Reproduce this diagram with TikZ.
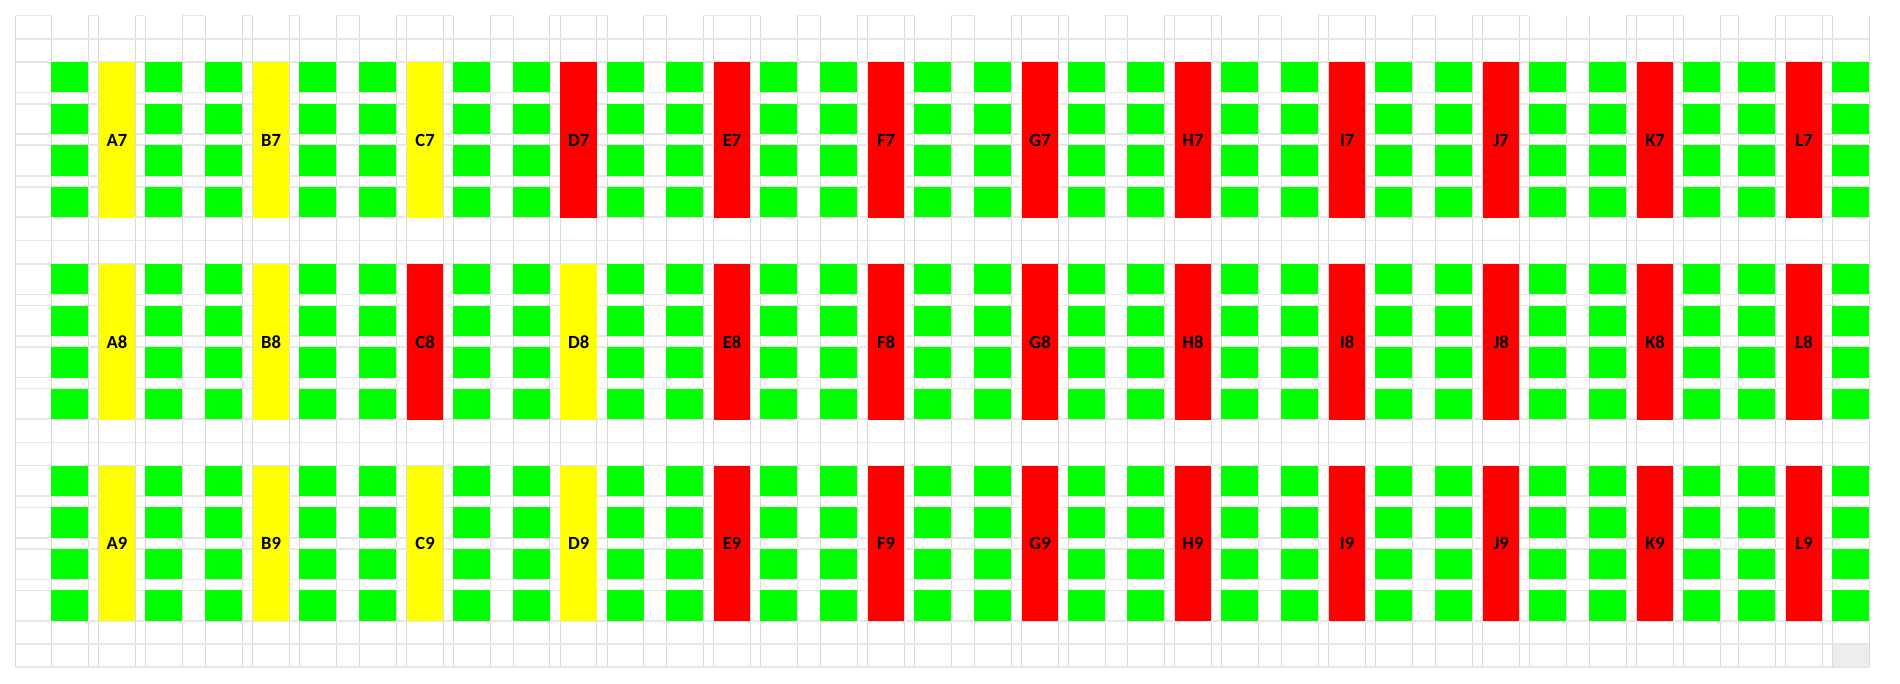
\documentclass[tikz,border=0pt]{standalone}
\usepackage{fontspec}
\setmainfont{Carlito}
\usepackage{xcolor}
\usepackage{tikz}
\definecolor{rackgreen}{HTML}{00FF00}
\definecolor{bayyellow}{HTML}{FFFF00}
\definecolor{bayred}{HTML}{FF0000}
\definecolor{vgrid}{HTML}{D9D9D9}
\definecolor{hgrid}{HTML}{E6E6E6}
\definecolor{cellgray}{HTML}{EDEDED}

\begin{document}
\begin{tikzpicture}[
    x=0.5pt, y=-0.5pt,
    vline/.style={draw=vgrid, line width=0.5pt},
    hline/.style={draw=hgrid, line width=0.8pt},
    rack/.style={fill=rackgreen},
    bay/.style={anchor=north west, inner sep=0pt, minimum width=18.35pt, minimum height=77.65pt, font=\bfseries\fontsize{9.3}{11}\selectfont}
]
\useasboundingbox (0,0) rectangle (1900,684);

% grey corner cell
\fill[cellgray] (1833.3,643.3) rectangle (1869.3,666.7);

% sheet grid
\draw[vline] (15.7,15.7) -- (15.7,666.7);
\foreach \p in {98.3,252.3,406.3,560,713.3,867.3,1021.3,1174.3,1328.3,1482.3,1636.3,1785.3}
  \foreach \d in {-47,-10.3,0,36.7,47,83.7}
    \draw[vline] (\p+\d,15.7) -- (\p+\d,666.7);
\draw[hline] (15.7,39) -- (1869.3,39);
\foreach \T in {62,263.8,465.6}
  \foreach \o in {0,30.5,41.8,72.3,83.3,113.8,124.8,155.3,178.5}
    \draw[hline] (15.7,\T+\o) -- (1869.3,\T+\o);
\draw[hline] (15.7,666.7) -- (1869.3,666.7);

% top border, only where the sheet shows it
\draw[hline] (15.7,15.7) -- (51.7,15.7);
\foreach \p in {98.3,252.3}{
  \draw[hline] (\p-10.3,15.7) -- (\p,15.7);
  \draw[hline] (\p+36.7,15.7) -- (\p+47,15.7);
}
\foreach \p in {406.3,560,713.3,867.3,1021.3,1174.3,1328.3,1482.3,1636.3,1785.3}
  \draw[hline] (\p-10.3,15.7) -- (\p+47,15.7);
\foreach \a/\b in {182/205.3,336/359.3,490/513,643.7/666.3,797/820.3,951/974.3,1105/1127.3,1258/1281.3,1412/1435.3,1720/1738.3}
  \draw[hline] (\a,15.7) -- (\b,15.7);

% bays with their racks on both sides
\foreach \n/\p/\ca/\cb/\cc in {
    A/98.3/bayyellow/bayyellow/bayyellow,
    B/252.3/bayyellow/bayyellow/bayyellow,
    C/406.3/bayyellow/bayred/bayyellow,
    D/560/bayred/bayyellow/bayyellow,
    E/713.3/bayred/bayred/bayred,
    F/867.3/bayred/bayred/bayred,
    G/1021.3/bayred/bayred/bayred,
    H/1174.3/bayred/bayred/bayred,
    I/1328.3/bayred/bayred/bayred,
    J/1482.3/bayred/bayred/bayred,
    K/1636.3/bayred/bayred/bayred,
    L/1785.3/bayred/bayred/bayred}{
  \foreach \T in {62,263.8,465.6}
    \foreach \o in {0,41.8,83.3,124.8}{
      \fill[rack] (\p-47,\T+\o) rectangle ++(36.7,30.5);
      \fill[rack] (\p+47,\T+\o) rectangle ++(36.7,30.5);
    }
  \node[bay, fill=\ca] (\n7) at (\p,62) {\n7};
  \node[bay, fill=\cb] (\n8) at (\p,263.8) {\n8};
  \node[bay, fill=\cc] (\n9) at (\p,465.6) {\n9};
}
\end{tikzpicture}
\end{document}
